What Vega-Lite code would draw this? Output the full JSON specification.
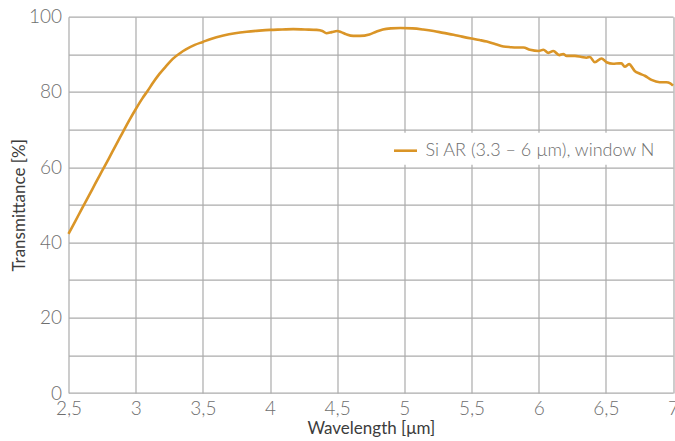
{
  "$schema": "https://vega.github.io/schema/vega-lite/v6.json",
  "width": 604.5,
  "height": 376.3,
  "autosize": {"type": "none"},
  "padding": {"left": 68.5, "top": 16.7, "right": 2, "bottom": 48},
  "background": "white",
  "config": {
    "view": {"stroke": null},
    "font": "Lato",
    "axis": {
      "domain": false,
      "ticks": false,
      "gridColor": "#ababab",
      "gridWidth": 1.2,
      "labelFont": "Lato",
      "labelFontWeight": 300,
      "labelFontSize": 19,
      "labelColor": "#6e6e6e",
      "titleFont": "Lato",
      "titleFontWeight": "normal",
      "titleFontSize": 17,
      "titleColor": "#3c3c3c"
    }
  },
  "data": {
    "values": [
      {"wl": 2.50, "t": 42.3}, {"wl": 2.55, "t": 45.6}, {"wl": 2.60, "t": 49.0}, {"wl": 2.65, "t": 52.3},
      {"wl": 2.70, "t": 55.7}, {"wl": 2.75, "t": 59.0}, {"wl": 2.80, "t": 62.3}, {"wl": 2.85, "t": 65.7},
      {"wl": 2.90, "t": 69.0}, {"wl": 2.95, "t": 72.3}, {"wl": 3.00, "t": 75.4}, {"wl": 3.05, "t": 78.3},
      {"wl": 3.091, "t": 80.4},
      {"wl": 3.13, "t": 82.5}, {"wl": 3.177, "t": 84.8}, {"wl": 3.23, "t": 87.0}, {"wl": 3.276, "t": 88.8},
      {"wl": 3.33, "t": 90.3}, {"wl": 3.374, "t": 91.3}, {"wl": 3.44, "t": 92.5}, {"wl": 3.50, "t": 93.3},
      {"wl": 3.56, "t": 94.1}, {"wl": 3.653, "t": 95.0}, {"wl": 3.74, "t": 95.6}, {"wl": 3.827, "t": 96.0},
      {"wl": 3.92, "t": 96.3}, {"wl": 4.00, "t": 96.5}, {"wl": 4.09, "t": 96.6}, {"wl": 4.173, "t": 96.7},
      {"wl": 4.26, "t": 96.6}, {"wl": 4.347, "t": 96.5}, {"wl": 4.39, "t": 96.2}, {"wl": 4.42, "t": 95.6},
      {"wl": 4.46, "t": 95.9}, {"wl": 4.50, "t": 96.2}, {"wl": 4.53, "t": 95.9}, {"wl": 4.57, "t": 95.3},
      {"wl": 4.62, "t": 94.9}, {"wl": 4.67, "t": 94.9}, {"wl": 4.74, "t": 95.3}, {"wl": 4.79, "t": 96.0},
      {"wl": 4.84, "t": 96.6}, {"wl": 4.90, "t": 96.9}, {"wl": 4.97, "t": 97.0}, {"wl": 5.06, "t": 96.9},
      {"wl": 5.14, "t": 96.6}, {"wl": 5.218, "t": 96.2}, {"wl": 5.29, "t": 95.7}, {"wl": 5.366, "t": 95.2},
      {"wl": 5.43, "t": 94.7}, {"wl": 5.50, "t": 94.2}, {"wl": 5.56, "t": 93.8}, {"wl": 5.614, "t": 93.4},
      {"wl": 5.68, "t": 92.7}, {"wl": 5.738, "t": 92.1}, {"wl": 5.79, "t": 91.9}, {"wl": 5.837, "t": 91.8},
      {"wl": 5.886, "t": 91.8}, {"wl": 5.936, "t": 91.2}, {"wl": 6.00, "t": 90.9}, {"wl": 6.035, "t": 91.2},
      {"wl": 6.072, "t": 90.4}, {"wl": 6.109, "t": 90.9}, {"wl": 6.153, "t": 89.8}, {"wl": 6.183, "t": 90.1},
      {"wl": 6.208, "t": 89.6}, {"wl": 6.27, "t": 89.6}, {"wl": 6.32, "t": 89.3}, {"wl": 6.356, "t": 89.1},
      {"wl": 6.381, "t": 89.3}, {"wl": 6.418, "t": 87.9}, {"wl": 6.468, "t": 88.9}, {"wl": 6.505, "t": 87.9},
      {"wl": 6.554, "t": 87.5}, {"wl": 6.60, "t": 87.6}, {"wl": 6.616, "t": 87.6}, {"wl": 6.641, "t": 86.7},
      {"wl": 6.673, "t": 87.4}, {"wl": 6.715, "t": 85.6}, {"wl": 6.75, "t": 84.9}, {"wl": 6.79, "t": 84.3},
      {"wl": 6.84, "t": 83.2}, {"wl": 6.90, "t": 82.6}, {"wl": 6.95, "t": 82.6}, {"wl": 6.98, "t": 82.3},
      {"wl": 7.00, "t": 81.7}
    ]
  },
  "mark": {"type": "line", "strokeWidth": 2.6, "interpolate": "monotone"},
  "encoding": {
    "x": {
      "field": "wl", "type": "quantitative",
      "scale": {"domain": [2.5, 7], "nice": false, "zero": false},
      "axis": {
        "values": [2.5, 3, 3.5, 4, 4.5, 5, 5.5, 6, 6.5, 7],
        "labelExpr": "replace(format(datum.value, '~g'), '.', ',')",
        "labelPadding": 6,
        "labelFlush": false,
        "title": "Wavelength [μm]",
        "titlePadding": 2
      }
    },
    "y": {
      "field": "t", "type": "quantitative",
      "scale": {"domain": [0, 100], "nice": false},
      "axis": {
        "values": [0, 10, 20, 30, 40, 50, 60, 70, 80, 90, 100],
        "labelExpr": "datum.value % 20 === 0 ? datum.label : ''",
        "labelPadding": 7,
        "labelFlush": false,
        "title": "Transmittance [%]",
        "titlePadding": 0
      }
    },
    "color": {
      "datum": "Si AR (3.3 – 6 µm), window N",
      "type": "nominal",
      "scale": {"range": ["#DA9527"]},
      "legend": {
        "title": null,
        "orient": "none",
        "legendX": 319,
        "legendY": 116,
        "padding": 5,
        "fillColor": "white",
        "symbolType": "stroke",
        "symbolSize": 529,
        "symbolStrokeWidth": 2.6,
        "labelFont": "Lato",
        "labelFontWeight": 300,
        "labelFontSize": 18,
        "labelColor": "#6e6e6e",
        "labelOffset": 7,
        "labelLimit": 400
      }
    }
  }
}
